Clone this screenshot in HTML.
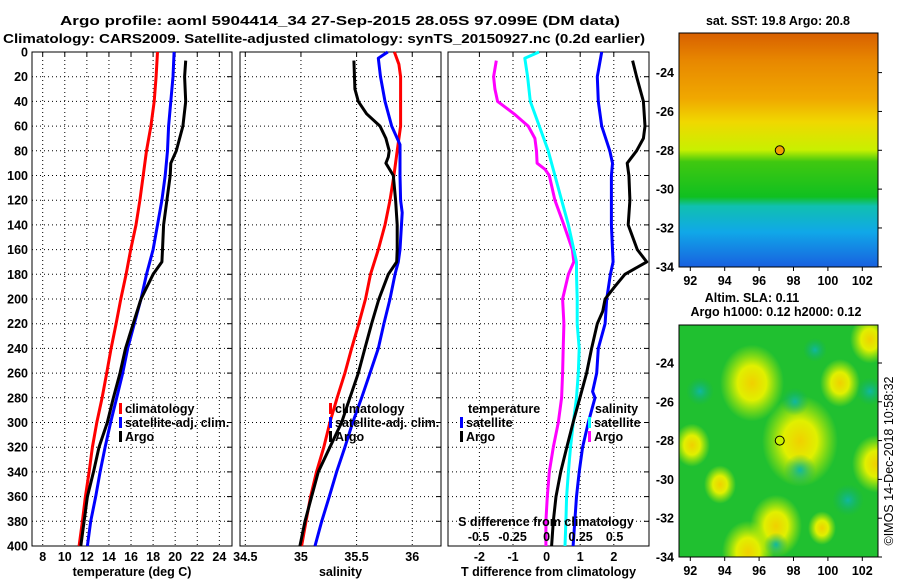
<!DOCTYPE html>
<html><head><meta charset="utf-8"><style>
body{margin:0;background:#fff;}
svg{display:block;font-family:"Liberation Sans",Arial,sans-serif;font-weight:bold;}
text{font-size:12.5px;fill:#000;}
</style></head><body>
<svg id="chart" width="900" height="580" viewBox="0 0 900 580" xmlns="http://www.w3.org/2000/svg">
<defs>
<linearGradient id="sstg" x1="0" y1="0" x2="0" y2="1">
<stop offset="0" stop-color="#d86000"/><stop offset="0.12" stop-color="#e88800"/><stop offset="0.28" stop-color="#f0a800"/><stop offset="0.38" stop-color="#f0d800"/><stop offset="0.5" stop-color="#c8f000"/><stop offset="0.55" stop-color="#40c810"/><stop offset="0.7" stop-color="#10c020"/><stop offset="0.74" stop-color="#10c0b0"/><stop offset="0.85" stop-color="#10a8e8"/><stop offset="1" stop-color="#1860e0"/>
</linearGradient>
<radialGradient id="yb"><stop offset="0" stop-color="#f0d000"/><stop offset="0.45" stop-color="#e0f000"/><stop offset="1" stop-color="#c0f000" stop-opacity="0"/></radialGradient>
<radialGradient id="tb"><stop offset="0" stop-color="#10b8a0"/><stop offset="1" stop-color="#10b060" stop-opacity="0"/></radialGradient>
<clipPath id="m2c"><rect x="679" y="325" width="199" height="232"/></clipPath>
</defs>
<g id="layer"></g>
</svg>
<script>
// ---- data (depth in dbar) ----
const depthClim = [0,20,40,60,80,100,120,140,160,180,200,220,240,260,280,300,320,340,360,380,400];
const tempClim = [18.4,18.27,18.1,17.8,17.4,17.1,16.8,16.45,15.97,15.55,15.07,14.65,14.2,13.8,13.38,12.9,12.5,12.2,11.87,11.6,11.3];
const tempSat = [19.9,19.8,19.6,19.4,19.3,19.1,18.8,18.4,18.0,17.4,16.9,16.3,15.7,15.25,14.7,14.15,13.65,13.2,12.8,12.35,12.05];
const depthArgoT = [7,20,40,60,80,90,100,120,140,160,170,180,200,220,240,260,280,300,320,340,360,380,400];
const tempArgo = [20.95,20.85,20.95,20.7,20.1,19.6,19.55,19.25,18.95,18.85,18.8,18.0,16.9,16.2,15.5,15.0,14.4,13.85,13.1,12.6,12.05,11.75,11.45];
const depthSalClim = [0,10,20,60,80,100,120,140,160,180,200,220,240,260,280,300,320,340,360,380,400];
const salClim = [35.84,35.88,35.895,35.895,35.865,35.835,35.8,35.755,35.695,35.625,35.58,35.52,35.455,35.395,35.325,35.26,35.205,35.14,35.087,35.045,35.006];
const depthSalSat = [0,5,20,40,60,75,100,120,130,160,170,180,200,220,240,260,280,300,320,340,360,380,400];
const salSat = [35.78,35.695,35.715,35.755,35.815,35.89,35.89,35.895,35.91,35.89,35.875,35.845,35.8,35.745,35.695,35.62,35.545,35.465,35.395,35.32,35.255,35.186,35.126];
const depthSalArgo = [7,30,40,50,60,70,80,85,90,100,120,140,160,170,180,200,220,240,260,280,300,320,340,360,380,400];
const salArgo = [35.476,35.485,35.515,35.59,35.71,35.763,35.793,35.785,35.763,35.83,35.85,35.865,35.865,35.86,35.785,35.70,35.635,35.575,35.515,35.44,35.365,35.26,35.156,35.096,35.036,34.991];
const depthTdSat = [0,20,40,60,80,90,100,140,160,170,180,200,220,240,260,275,280,300,320,340,360,380,400];
const tdiffSat = [1.64,1.51,1.54,1.64,1.88,1.96,1.93,1.93,1.96,1.98,1.9,1.79,1.74,1.54,1.49,1.37,1.44,1.24,1.07,0.97,0.89,0.84,0.79];
const depthTdArgo = [7,20,40,60,70,80,90,100,120,140,160,170,180,190,200,210,220,240,260,280,300,320,340,360,380,400];
const tdiffArgo = [2.56,2.68,2.88,2.93,2.88,2.68,2.4,2.45,2.48,2.43,2.7,2.98,2.33,2.03,1.74,1.67,1.51,1.34,1.19,0.99,0.79,0.6,0.42,0.28,0.2,0.15];
const depthSdSat = [0,5,20,40,60,80,100,120,140,160,170,180,200,220,240,260,280,300,320,340,360,380,400];
const sdiffSat = [-0.056,-0.16,-0.14,-0.12,-0.054,0.012,0.061,0.11,0.16,0.2,0.22,0.22,0.225,0.225,0.24,0.233,0.22,0.196,0.176,0.16,0.147,0.142,0.135];
const depthSdArgo = [7,20,30,40,50,60,70,80,90,95,100,120,140,160,170,180,200,220,240,260,280,300,320,340,360,380,400];
const sdiffArgo = [-0.37,-0.39,-0.38,-0.36,-0.24,-0.135,-0.086,-0.074,-0.07,-0.012,0.02,0.061,0.127,0.19,0.2,0.16,0.118,0.127,0.122,0.118,0.11,0.086,0.049,0.02,0.005,-0.005,-0.005];
const depthTicks = [0,20,40,60,80,100,120,140,160,180,200,220,240,260,280,300,320,340,360,380,400];
const tempTicks = [8,10,12,14,16,18,20,22,24];
const salTicks = [34.5,35,35.5,36];
const salTickLabels = ["34.5","35","35.5","36"];
const tdTicks = [-2,-1,0,1,2];
const sdTicks = [-0.5,-0.25,0,0.25,0.5];
const sdTickLabels = ["-0.5","-0.25","0","0.25","0.5"];
const lonTicks = [92,94,96,98,100,102];
const latTicks = [-24,-26,-28,-30,-32,-34];
const argoLon = 97.2, argoLat = -28;

// ---- axes ----
const Y0 = 52, Y1 = 546;
const yD = d => Y0 + d*(Y1-Y0)/400;
const xT = t => 42.7 + (t-8)*11.04;
const xS = s => 245.3 + (s-34.5)*111.3;
const xTd = v => 546.6 + v*33.6;
const xSd = v => 546.6 + v*136;
const xLon = l => 690.3 + (l-92)*17.2;
const yLat1 = l => 72.6 + (-24-l)*19.42;
const yLat2 = l => 363 + (-24-l)*19.4;

const NS='http://www.w3.org/2000/svg';
const L=document.getElementById('layer');
function mk(tag,attrs,parent){const e=document.createElementNS(NS,tag);for(const k in attrs)e.setAttribute(k,attrs[k]);(parent||L).appendChild(e);return e;}
function txt(x,y,s,anchor){const e=mk('text',{x:x,y:y,'text-anchor':anchor||'middle'});e.textContent=s;return e;}

const panels=[{x0:32,x1:232,ticks:tempTicks,fx:xT,labels:tempTicks.map(String),title:'temperature (deg C)',name:'temperature'},
{x0:240,x1:441,ticks:salTicks,fx:xS,labels:salTickLabels,title:'salinity',name:'salinity'},
{x0:448,x1:649,ticks:tdTicks,fx:xTd,labels:tdTicks.map(String),title:'T difference from climatology',name:'difference'}];
panels.forEach(p=>{
  const g=mk('g',{});
  
  
  depthTicks.forEach(d=>{
    const y=yD(d);
    mk('line',{x1:p.x0,x2:p.x1,y1:y,y2:y,stroke:'#000','stroke-width':1,'stroke-dasharray':'1,3'},g);
    mk('line',{x1:p.x1-5,x2:p.x1,y1:y,y2:y,stroke:'#000'},g);
  });
  p.ticks.forEach((t,i)=>{
    const x=p.fx(t);
    mk('line',{x1:x,x2:x,y1:Y0,y2:Y1,stroke:'#000','stroke-width':1,'stroke-dasharray':'1,3'},g);
    mk('line',{x1:x,x2:x,y1:Y0,y2:Y0+4,stroke:'#000'},g);
    const t2=txt(x,561,p.labels[i]);
    
    
  });
  mk('rect',{x:p.x0,y:Y0,width:p.x1-p.x0,height:Y1-Y0,fill:'none',stroke:'#000','stroke-width':1},g);
  const at=txt((p.x0+p.x1)/2,576,p.title);
  
  
});
depthTicks.forEach(d=>{
  const t=txt(28,yD(d)+4.5,String(d),'end');
  
  
});

function series(xs,ds,fx,color,name,w){
  const pts=xs.map((v,i)=>fx(v).toFixed(1)+','+yD(ds[i]).toFixed(1)).join(' ');
  const e=mk('polyline',{points:pts,fill:'none',stroke:color,'stroke-width':w||3,'stroke-linejoin':'round'});
  
  
}
series(tempClim,depthClim,xT,'#ff0000','temp-climatology-line');
series(tempSat,depthClim,xT,'#0000ff','temp-satellite-line');
series(tempArgo,depthArgoT,xT,'#000','temp-argo-line');
series(salClim,depthSalClim,xS,'#ff0000','sal-climatology-line');
series(salSat,depthSalSat,xS,'#0000ff','sal-satellite-line');
series(salArgo,depthSalArgo,xS,'#000','sal-argo-line');
series(sdiffArgo,depthSdArgo,xSd,'#ff00ff','sdiff-argo-line');
series(sdiffSat,depthSdSat,xSd,'#00ffff','sdiff-satellite-line');
series(tdiffSat,depthTdSat,xTd,'#0000ff','tdiff-satellite-line');
series(tdiffArgo,depthTdArgo,xTd,'#000','tdiff-argo-line');

function legendEntry(x,y,color,label){
  const g=mk('g',{});
  
  
  mk('rect',{x:x,y:y-10,width:3,height:11,fill:color},g);
  const t=mk('text',{x:x+6,y:y,'text-anchor':'start'},g);t.textContent=label;
}
legendEntry(119,413,'#ff0000','climatology');
legendEntry(119,427,'#0000ff','satellite-adj. clim.');
legendEntry(119,441,'#000','Argo');
legendEntry(329,413,'#ff0000','climatology');
legendEntry(329,427,'#0000ff','satellite-adj. clim.');
legendEntry(329,441,'#000','Argo');
txt(468,413,'temperature','start');
legendEntry(460,427,'#0000ff','satellite');
legendEntry(460,441,'#000','Argo');
txt(595,413,'salinity','start');
legendEntry(588,427,'#00ffff','satellite');
legendEntry(588,441,'#ff00ff','Argo');
txt(546,526,'S difference from climatology');
sdTicks.forEach((v,i)=>{const t=txt(xSd(v),541,sdTickLabels[i]);});

// maps
function mapAxes(ytop,ybot,fy){
  lonTicks.forEach(l=>{const x=xLon(l);mk('line',{x1:x,x2:x,y1:ybot,y2:ybot+4,stroke:'#000'});txt(x,ybot+18,String(l));});
  latTicks.forEach(l=>{const y=fy(l);mk('line',{x1:878,x2:882,y1:y,y2:y,stroke:'#000'});txt(674,y+4.5,String(l),'end');});
}
const m1=mk('rect',{x:679,y:33,width:199,height:234,fill:'url(#sstg)'});

mk('rect',{x:679,y:33,width:199,height:234,fill:'none',stroke:'#000'});
mapAxes(33,267,yLat1);
const m2g=mk('g',{'clip-path':'url(#m2c)'});

mk('rect',{x:679,y:325,width:199,height:232,fill:'#20c030'},m2g);
const ry = y => 325 + (y-316)*1.036;
[[752,372,32],[800,428,38],[840,372,20],[692,432,18],[776,510,26],[876,450,24],[748,535,26],[870,330,20],[822,512,14],[720,470,16]].forEach(b=>mk('ellipse',{cx:b[0],cy:ry(b[1]),rx:b[2],ry:b[2]*1.2,fill:'url(#yb)'},m2g));
[[795,390,14],[800,456,16],[848,485,16],[776,528,12],[700,380,14],[870,380,14],[815,340,12]].forEach(b=>mk('circle',{cx:b[0],cy:ry(b[1]),r:b[2],fill:'url(#tb)'},m2g));
mk('rect',{x:679,y:325,width:199,height:232,fill:'none',stroke:'#000'});
mapAxes(325,557,yLat2);
const c1=mk('circle',{cx:xLon(argoLon),cy:yLat1(argoLat),r:4.5,fill:'#f0a000',stroke:'#000'});

const c2=mk('circle',{cx:xLon(argoLon),cy:yLat2(argoLat),r:4.5,fill:'#c8f000',stroke:'#000'});


// titles
const t1=txt(340,25,'Argo profile: aoml 5904414_34 27-Sep-2015 28.05S 97.099E (DM data)');
t1.setAttribute('font-size','16.5');t1.setAttribute('textLength','560');t1.setAttribute('lengthAdjust','spacingAndGlyphs');

const t2=txt(324,43,'Climatology: CARS2009. Satellite-adjusted climatology: synTS_20150927.nc (0.2d earlier)');
t2.setAttribute('font-size','15');t2.setAttribute('textLength','642');t2.setAttribute('lengthAdjust','spacingAndGlyphs');

const t3=txt(778,25,'sat. SST: 19.8 Argo: 20.8');

const t4=txt(752,302,'Altim. SLA: 0.11');

const t5=txt(776,316,'Argo h1000: 0.12 h2000: 0.12');

const cp=mk('text',{x:0,y:0,'text-anchor':'middle',transform:'translate(893,461) rotate(-90)','font-weight':'normal'});
cp.textContent='©IMOS 14-Dec-2018 10:58:32';

</script>
</body></html>
